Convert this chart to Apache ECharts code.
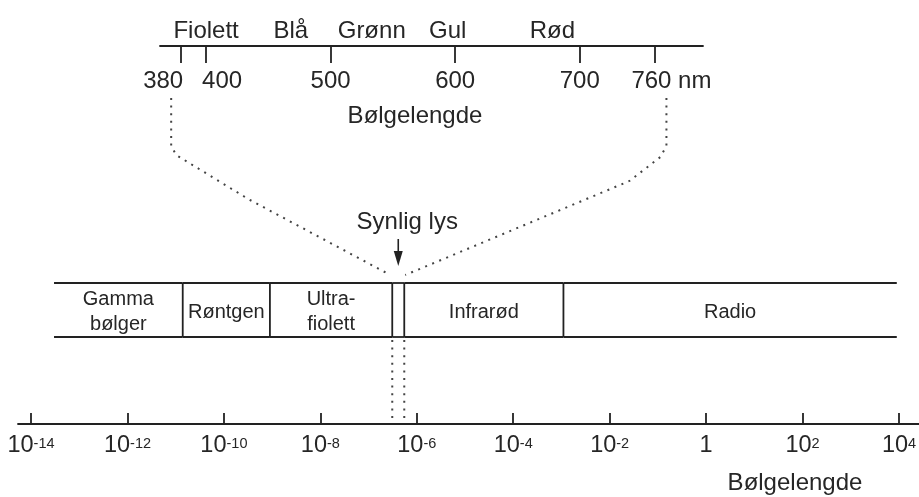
<!DOCTYPE html>
<html>
<head>
<meta charset="utf-8">
<script src="https://cdn.jsdelivr.net/npm/echarts@6/dist/echarts.min.js"></script>
<style>
  html, body { margin: 0; padding: 0; background: #ffffff; }
  #chart { width: 919px; height: 497px; }
</style>
</head>
<body>
<div id="chart"></div>
<script>
// Visible light, wavelength in nm
const visTicks = [380, 400, 500, 600, 700, 760];
const colourNames = ['Fiolett', 'Blå', 'Grønn', 'Gul', 'Rød'];
const colourPos = [400, 468, 533, 594, 678];
const visibleLimits = [380, 760];

// Electromagnetic spectrum, wavelength in metres (tick labels are powers of ten)
const specExp = [-14, -12, -10, -8, -6, -4, -2, 0, 2, 4];
const bandNames = ['Gamma\nbølger', 'Røntgen', 'Ultra-\nfiolett', '', 'Infrarød', 'Radio'];
const bandEdges = [3e-14, 1.4e-11, 9e-10, 3.1e-7, 5.5e-7, 1.1e-3, 9e3];
const visibleIndex = 3;

const FONT = "'Liberation Sans', Arial, Helvetica, sans-serif";
const INK = '#262626';
const LINE = '#222222';
const DOT = '#444444';
const BIG = 24;

// vertical layout of the band strip (px)
const STRIP_TOP = 283;
const STRIP_BOTTOM = 337;

const bandData = bandNames.map((n, i) => ({
  value: [Math.log10(bandEdges[i]), Math.log10(bandEdges[i + 1])],
  name: n
}));

function renderBand(params, api) {
  const i = params.dataIndex;
  const x0 = api.coord([api.value(0), 0])[0];
  const x1 = api.coord([api.value(1), 0])[0];
  const axisY = api.coord([api.value(0), 0])[1];
  const stroke = { stroke: LINE, lineWidth: 1.8 };
  const kids = [
    { type: 'line', shape: { x1: x0, y1: STRIP_TOP, x2: x1, y2: STRIP_TOP }, style: stroke },
    { type: 'line', shape: { x1: x0, y1: STRIP_BOTTOM, x2: x1, y2: STRIP_BOTTOM }, style: stroke }
  ];
  if (i > 0) {
    kids.push({ type: 'line', shape: { x1: x0, y1: STRIP_TOP, x2: x0, y2: STRIP_BOTTOM }, style: stroke });
  }
  if (i === visibleIndex) {
    [x0, x1].forEach(x => kids.push({
      type: 'line',
      shape: { x1: x, y1: STRIP_BOTTOM + 3, x2: x, y2: axisY - 1 },
      style: { stroke: DOT, lineWidth: 2, lineDash: [2, 5.6] }
    }));
  }
  const name = bandNames[i];
  if (name) {
    kids.push({
      type: 'text',
      x: (x0 + x1) / 2,
      y: (STRIP_TOP + STRIP_BOTTOM) / 2 + 2,
      style: {
        text: name, fill: INK, font: '20px ' + FONT,
        align: 'center', verticalAlign: 'middle', lineHeight: 25
      }
    });
  }
  return { type: 'group', children: kids };
}

// colour names sit just above the nm axis line
function renderColourName(params, api) {
  const p = api.coord([api.value(0), 0]);
  return {
    type: 'text', x: p[0], y: p[1] - 15,
    style: {
      text: colourNames[params.dataIndex], fill: INK, font: BIG + 'px ' + FONT,
      align: 'center', verticalAlign: 'middle'
    }
  };
}

const richNum = { fontSize: BIG, color: INK, fontFamily: FONT };

const option = {
  backgroundColor: '#ffffff',
  animation: false,
  textStyle: { fontFamily: FONT, color: INK },
  grid: [
    { left: 160, right: 216, top: 10, bottom: 451, outerBoundsMode: 'none' },
    { left: 18, right: 0, top: 200, bottom: 73, outerBoundsMode: 'none' }
  ],
  xAxis: [
    {
      gridIndex: 0, type: 'value', min: 363, max: 799,
      name: 'Bølgelengde', nameLocation: 'middle', nameGap: 58, nameMoveOverlap: false,
      nameTextStyle: { fontSize: BIG, color: INK, fontFamily: FONT, padding: [0, 33, 0, 0] },
      axisLine: { show: true, lineStyle: { color: LINE, width: 1.8 } },
      axisTick: { show: true, customValues: visTicks, length: 17, lineStyle: { color: LINE, width: 1.8 } },
      splitLine: { show: false },
      axisLabel: {
        show: true, customValues: visTicks, margin: 23, hideOverlap: false,
        formatter: v => v === 380 ? '{l|380}' : v === 400 ? '{r|400}' :
          v === 760 ? '{e|760}{u| nm}' : '{n|' + v + '}',
        rich: {
          n: richNum,
          l: Object.assign({ padding: [0, 36, 0, 0] }, richNum),
          r: Object.assign({ padding: [0, 0, 0, 32] }, richNum),
          e: Object.assign({ padding: [0, 0, 0, 34] }, richNum),
          u: richNum
        }
      }
    },
    {
      gridIndex: 1, type: 'value', min: -14.27, max: 4.415,
      name: 'Bølgelengde', nameLocation: 'middle', nameGap: 47, nameMoveOverlap: false,
      nameTextStyle: { fontSize: BIG, color: INK, fontFamily: FONT, padding: [0, 0, 0, 653] },
      axisLine: { show: true, lineStyle: { color: LINE, width: 1.8 } },
      axisTick: { show: true, inside: true, customValues: specExp, length: 11, lineStyle: { color: LINE, width: 1.8 } },
      splitLine: { show: false },
      axisLabel: {
        show: true, customValues: specExp, margin: 10, hideOverlap: false,
        formatter: v => v === 0 ? '{b|1}' : '{b|10}{s|' + v + '}',
        rich: {
          b: { fontSize: 23.5, color: INK, fontFamily: FONT },
          s: { fontSize: 14.5, color: INK, fontFamily: FONT, verticalAlign: 'top', padding: [2, 0, 0, 0] }
        }
      }
    }
  ],
  yAxis: [
    { gridIndex: 0, type: 'value', min: 0, max: 1, show: false },
    { gridIndex: 1, type: 'value', min: 0, max: 1, show: false }
  ],
  series: [
    {
      type: 'custom', xAxisIndex: 0, yAxisIndex: 0, silent: true,
      encode: { x: 0 },
      data: colourPos.map(v => [v]),
      renderItem: renderColourName
    },
    {
      type: 'custom', xAxisIndex: 1, yAxisIndex: 1, silent: true,
      encode: { x: [0, 1] },
      data: bandData,
      renderItem: renderBand
    }
  ]
};

const chart = echarts.init(document.getElementById('chart'));
chart.setOption(option);

// dotted funnel from the 380/760 nm marks to the visible band, plus the arrow
const nmX = v => chart.convertToPixel({ xAxisIndex: 0 }, v);
const mX = v => chart.convertToPixel({ xAxisIndex: 1 }, Math.log10(v));

const xl = nmX(visibleLimits[0]) - 10;
const xr = nmX(visibleLimits[1]) + 12;
const el = mX(bandEdges[visibleIndex]);
const er = mX(bandEdges[visibleIndex + 1]);
const ax = mX(Math.sqrt(bandEdges[visibleIndex] * bandEdges[visibleIndex + 1]));
const dotted = { stroke: DOT, lineWidth: 2, lineDash: [2, 5.6], fill: null };

chart.setOption({
  graphic: [
    { type: 'polyline', silent: true,
      shape: { points: [[xl, 98], [xl, 146], [xl + 5, 155], [xl + 77, 199], [el - 2, 275]] },
      style: dotted },
    { type: 'polyline', silent: true,
      shape: { points: [[xr, 98], [xr, 146], [xr - 6, 157], [xr - 37, 181], [er + 1, 275]] },
      style: dotted },
    { type: 'line', silent: true,
      shape: { x1: ax, y1: 239, x2: ax, y2: 253 },
      style: { stroke: LINE, lineWidth: 1.6 } },
    { type: 'polygon', silent: true,
      shape: { points: [[ax - 4.5, 251], [ax + 4.5, 251], [ax, 266]] },
      style: { fill: LINE } },
    { type: 'text', silent: true, x: ax + 9, y: 222,
      style: { text: 'Synlig lys', font: BIG + 'px ' + FONT, fill: INK, align: 'center', verticalAlign: 'middle' } }
  ]
});
</script>
</body>
</html>
